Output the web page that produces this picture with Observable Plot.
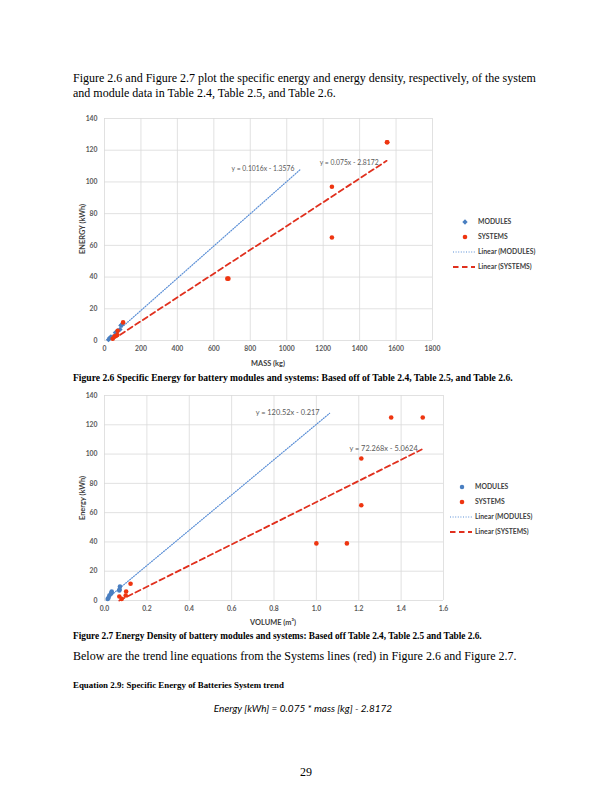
<!DOCTYPE html>
<html>
<head>
<meta charset="utf-8">
<script src="https://cdn.jsdelivr.net/npm/d3@7"></script>
<script src="https://cdn.jsdelivr.net/npm/@observablehq/plot@0.6"></script>
<style>
  html, body { margin: 0; padding: 0; background: #fff; }
  #page { position: relative; width: 612px; height: 792px; overflow: hidden; background: #fff; }
  .abs { position: absolute; white-space: nowrap; }
  .serif { font-family: "Liberation Serif", "Times New Roman", serif; color: #000; }
  .body { font-size: 12px; }
  .cap { font-weight: bold; }
  .axt { font-family: Lato, "Open Sans", sans-serif; font-weight: bold; font-size: 7.4px; color: #404040; }
  .chart { position: absolute; }
</style>
</head>
<body>
<div id="page">
  <div class="abs serif body" style="left:73px; top:71px;">Figure 2.6 and Figure 2.7 plot the specific energy and energy density, respectively, of the system</div>
  <div class="abs serif body" style="left:73px; top:86px;">and module data in Table 2.4, Table 2.5, and Table 2.6.</div>

  <div id="c1" class="chart" style="left:60px; top:108px;"></div>
  <div class="abs axt" style="left:82px; top:229px; transform: translate(-50%,-50%) rotate(-90deg);">ENERGY (kWh)</div>
  <div class="abs axt" style="left:268px; top:363px; transform: translate(-50%,-50%);">MASS (kg)</div>
  <div id="leg1"></div>
  <div class="abs serif cap" style="left:73px; top:372px; font-size:9.6px;">Figure 2.6 Specific Energy for battery modules and systems: Based off of Table 2.4, Table 2.5, and Table 2.6.</div>

  <div id="c2" class="chart" style="left:60px; top:385px;"></div>
  <div class="abs axt" style="left:82px; top:498px; transform: translate(-50%,-50%) rotate(-90deg);">Energy (kWh)</div>
  <div class="abs axt" style="left:273px; top:622px; transform: translate(-50%,-50%);">VOLUME (m³)</div>
  <div id="leg2"></div>
  <div class="abs serif cap" style="left:73px; top:631px; font-size:9.3px;">Figure 2.7 Energy Density of battery modules and systems: Based off Table 2.4, Table 2.5 and Table 2.6.</div>

  <div class="abs serif body" style="left:73px; top:649px; font-size:12px;">Below are the trend line equations from the Systems lines (red) in Figure 2.6 and Figure 2.7.</div>
  <div class="abs serif cap" style="left:73px; top:680px; font-size:8.9px;">Equation 2.9: Specific Energy of Batteries System trend</div>
  <div class="abs" style="left:303px; top:708px; transform: translate(-50%,-50%); font-family: Lato, 'Open Sans', sans-serif; font-style: italic; font-size: 10px; color:#000;">Energy [kWh] = 0.075 * mass [kg] - 2.8172</div>
  <div class="abs serif" style="left:306px; top:772px; transform: translate(-50%,-50%); font-size:12px;">29</div>
</div>
<script>
// ---------- Data: Figure 2.6 (mass vs energy) ----------
const modMass   = [22, 28, 35, 60, 72, 85, 90, 95];
const modEnergy = [0.5, 1.5, 2.2, 5, 6, 7, 9.5, 10];
const sysMass   = [45, 55, 70, 72, 102, 674, 680, 1248, 1248, 1550, 1552];
const sysEnergy = [1.1, 2.7, 3.4, 6.1, 11.4, 39, 39, 65, 97, 125, 125];
const fit1Mod = {a: 0.1016, b: -1.3576, range: [20, 1075], label: "y = 0.1016x - 1.3576"};
const fit1Sys = {a: 0.075, b: -2.8172, range: [45, 1548], label: "y = 0.075x - 2.8172"};
const xTicks1 = [0, 200, 400, 600, 800, 1000, 1200, 1400, 1600, 1800];
const yTicks  = [0, 20, 40, 60, 80, 100, 120, 140];

// ---------- Data: Figure 2.7 (volume vs energy) ----------
const modVol    = [0.015, 0.019, 0.023, 0.03, 0.033, 0.034, 0.07, 0.071, 0.073];
const modEnergy2= [1.0, 1.8, 3.4, 4.6, 5.2, 6.1, 6.8, 7.5, 9.6];
const sysVol    = [0.07, 0.081, 0.1, 0.102, 0.123, 1.0, 1.144, 1.212, 1.212, 1.353, 1.502];
const sysEnergy2= [2.7, 1.1, 3.4, 6.1, 11.4, 39, 39, 65, 97, 125, 125];
const fit2Mod = {a: 120.52, b: -0.217, range: [0.015, 1.0625], label: "y = 120.52x - 0.217"};
const fit2Sys = {a: 72.268, b: -5.0624, range: [0.07, 1.497], label: "y = 72.268x - 5.0624"};
const xTicks2 = [0, 0.2, 0.4, 0.6, 0.8, 1.0, 1.2, 1.4, 1.6];

const legendItems = ["MODULES", "SYSTEMS", "Linear (MODULES)", "Linear (SYSTEMS)"];

const BLUE = "#4a7fc1", RED = "#ee3510", BLUEL = "#5b8fd6", REDL = "#e0301e", GRID = "#d9d9d9", TXT = "#595959";

function pts(xs, ys) { return xs.map((x, i) => ({x, y: ys[i]})); }
function fitLine(f) { return f.range.map(x => ({x, y: f.a * x + f.b})); }
function fitEnd(f) { const x = f.range[1]; return [{x, y: f.a * x + f.b, label: f.label}]; }

function makeChart(opt) {
  return Plot.plot({
    width: opt.width, height: opt.height,
    marginLeft: 44, marginRight: 8, marginTop: 10, marginBottom: 20,
    style: {fontFamily: "Lato, 'Open Sans', sans-serif", background: "transparent", overflow: "visible"},
    x: {domain: opt.xdomain, ticks: opt.xticks, tickFormat: opt.xfmt, label: null},
    y: {domain: [0, 140], ticks: yTicks, label: null},
    marks: [
      Plot.gridX(opt.xticks, {stroke: GRID, strokeOpacity: 1, strokeWidth: 0.8}),
      Plot.gridY(yTicks, {stroke: GRID, strokeOpacity: 1, strokeWidth: 0.8}),
      Plot.axisX(opt.xticks, {tickSize: 0, tickPadding: 6, fontSize: 6.8, fontWeight: "bold", fill: TXT, tickFormat: opt.xfmt, label: null}),
      Plot.axisY(yTicks, {tickSize: 0, tickPadding: 7, fontSize: 6.8, fontWeight: "bold", fill: TXT, label: null}),
      Plot.line(fitLine(opt.fitMod), {x: "x", y: "y", stroke: BLUEL, strokeWidth: 1.2, strokeDasharray: "1,1.6"}),
      Plot.line(fitLine(opt.fitSys), {x: "x", y: "y", stroke: REDL, strokeWidth: 1.8, strokeDasharray: "5.5,3.5"}),
      Plot.dot(opt.mod, {x: "x", y: "y", symbol: opt.modSymbol, r: opt.modR, fill: BLUE, stroke: "none"}),
      Plot.dot(opt.sys, {x: "x", y: "y", symbol: "circle", r: 2.3, fill: RED, stroke: "none"}),
      Plot.text(fitEnd(opt.fitMod), {x: "x", y: "y", text: "label", textAnchor: "end", dx: opt.modDx, dy: opt.modDy, fontSize: opt.eqSize, fill: TXT}),
      Plot.text(fitEnd(opt.fitSys), {x: "x", y: "y", text: "label", textAnchor: "end", dx: opt.sysDx, dy: opt.sysDy, fontSize: opt.eqSize, fill: TXT})
    ]
  });
}

document.getElementById("c1").appendChild(makeChart({
  width: 380, height: 252, xdomain: [0, 1800], xticks: xTicks1, xfmt: d => String(d),
  fitMod: fit1Mod, fitSys: fit1Sys,
  mod: pts(modMass, modEnergy), sys: pts(sysMass, sysEnergy),
  modSymbol: "diamond2", modR: 2.4, eqSize: 6.8,
  modDx: -6, modDy: -1, sysDx: -8, sysDy: 1.5
}));

document.getElementById("c2").appendChild(makeChart({
  width: 391, height: 235, xdomain: [0, 1.6], xticks: xTicks2, xfmt: d => d.toFixed(1),
  fitMod: fit2Mod, fitSys: fit2Sys,
  mod: pts(modVol, modEnergy2), sys: pts(sysVol, sysEnergy2),
  modSymbol: "circle", modR: 2.3, eqSize: 7.4,
  modDx: -10, modDy: -1, sysDx: -4, sysDy: -1
}));

function makeLegend(el, left, top, gap, modSymbol) {
  const w = 110, h = gap * 4 + 4;
  const svg = d3.create("svg").attr("width", w).attr("height", h)
    .style("position", "absolute").style("left", left + "px").style("top", top + "px").style("overflow", "visible");
  legendItems.forEach((name, i) => {
    const cy = 4 + i * gap;
    if (i === 0) {
      svg.append("path").attr("d", d3.symbol(modSymbol === "circle" ? d3.symbolCircle : d3.symbolDiamond2, modSymbol === "circle" ? 16 : 18)())
        .attr("transform", `translate(12,${cy})`).attr("fill", BLUE);
    } else if (i === 1) {
      svg.append("circle").attr("cx", 12).attr("cy", cy).attr("r", 2.3).attr("fill", RED);
    } else if (i === 2) {
      svg.append("line").attr("x1", 0).attr("x2", 22).attr("y1", cy).attr("y2", cy)
        .attr("stroke", BLUEL).attr("stroke-width", 1.2).attr("stroke-dasharray", "1,1.6");
    } else {
      svg.append("line").attr("x1", 0).attr("x2", 22).attr("y1", cy).attr("y2", cy)
        .attr("stroke", REDL).attr("stroke-width", 1.8).attr("stroke-dasharray", "5.5,3.5");
    }
    svg.append("text").attr("x", 25).attr("y", cy).attr("dy", "0.35em")
      .attr("font-family", "Lato, 'Open Sans', sans-serif").attr("font-weight", "bold")
      .attr("font-size", 6.8).attr("fill", "#404040").text(name);
  });
  document.getElementById(el).appendChild(svg.node());
}
makeLegend("leg1", 453, 218, 15, "diamond");
makeLegend("leg2", 450, 483, 15, "circle");
</script>
</body>
</html>
